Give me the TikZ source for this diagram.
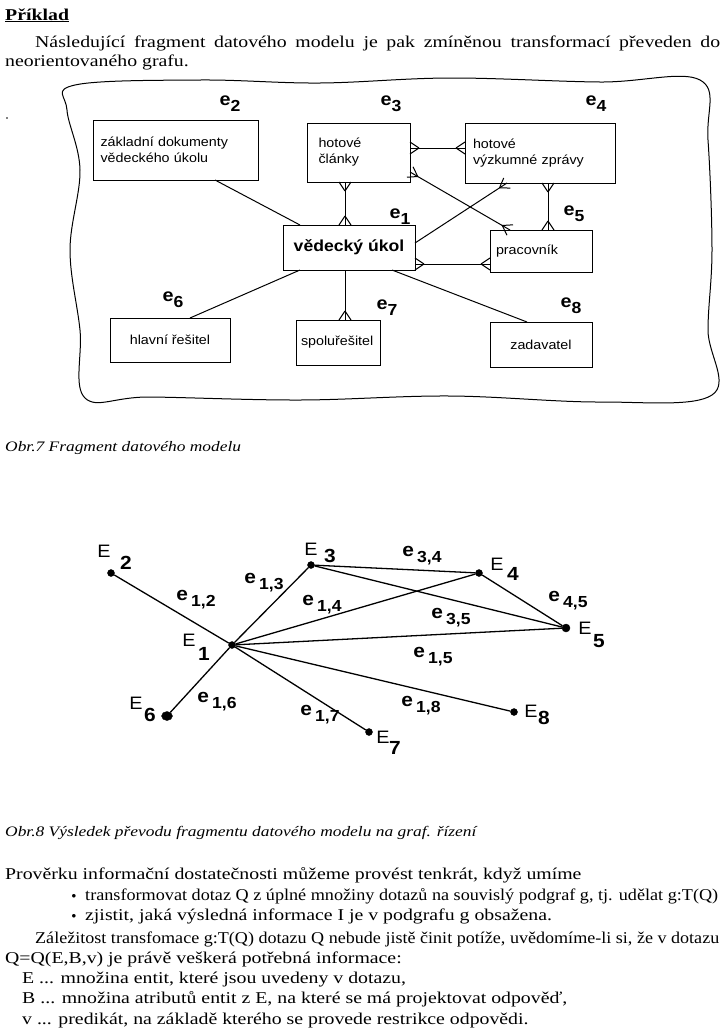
\documentclass[tikz,border=0pt]{standalone}
\usepackage{fontspec}
\setmainfont{Liberation Serif}[FakeStretch=1.2]
\newfontfamily\ars{Liberation Sans}[FakeStretch=1.1]
\usetikzlibrary{calc,shapes.geometric}
\newcommand\crowft[2]{\draw ($(#1)!9pt!(#2)$) -- ($(#1)!6pt!90:(#2)$) ($(#1)!9pt!(#2)$) -- ($(#1)!6pt!-90:(#2)$);}
\tikzset{
 box/.style={draw,line width=0.9pt,font=\ars\fontsize{13}{16}\selectfont,align=left,inner sep=0pt},
 el/.style={font=\ars\bfseries\fontsize{18}{18}\selectfont,inner sep=0pt},
 ln/.style={line width=1pt},
 vx/.style={circle,fill=black,draw=black,inner sep=0pt,minimum size=7pt},
 gl/.style={font=\ars\bfseries\fontsize{19}{19}\selectfont,inner sep=0pt},
 txt/.style={anchor=base west,inner sep=0pt,font=\fontsize{16.5}{20}\selectfont},
 captxt/.style={anchor=base west,inner sep=0pt,font=\itshape\fontsize{14.5}{17}\selectfont},
}
\newcommand\sub[1]{\raisebox{-6pt}{\fontsize{16}{16}\selectfont #1}}
\newcommand\bul{\llap{\raisebox{2pt}{\small$\bullet$}\hspace{9pt}}}
\begin{document}
\begin{tikzpicture}[x=1pt,y=-1pt]
\useasboundingbox (0,0) rectangle (727,1029);
% header text
\node[txt] (t1) at (5,20) {\textbf{\underline{Příklad}}};
\node[txt] (t2) at (35,47) {\makebox[685pt][s]{Následující fragment datového modelu je pak zmíněnou transformací převeden do}};
\node[txt] (t3) at (5,66) {neorientovaného grafu.};
\fill (7,118) circle (0.8);
% blob
\draw[line width=1pt] plot[smooth cycle,tension=0.6] coordinates {
 (75,85) (200,80) (320,83) (450,78) (600,82) (700,80) (708,140) (712,250) (708,330) (712,395)
 (600,402) (450,396) (300,400) (150,397) (85,398) (80,330) (70,250) (80,170) (67,110)};
% boxes
\node[box,minimum width=165pt,minimum height=60pt,text width=150pt] (b2) at (175.5,150) {základní dokumenty\\vědeckého úkolu};
\node[box,minimum width=103pt,minimum height=59pt,text width=80pt] (b3) at (358.5,152.5) {hotové\\články};
\node[box,minimum width=150pt,minimum height=60pt,text width=134pt] (b4) at (540,153) {hotové\\výzkumné zprávy};
\node[box,minimum width=132pt,minimum height=45pt,align=center,font=\ars\bfseries\fontsize{16}{16}\selectfont] (b1) at (349,247.5) {vědecký úkol};
\node[box,minimum width=102pt,minimum height=42pt,text width=90pt] (b5) at (541,251) {pracovník};
\node[box,minimum width=120pt,minimum height=44pt,align=center] (b6) at (170,340) {hlavní řešitel};
\node[box,minimum width=84pt,minimum height=45pt,text width=74pt] (b7) at (338,342.5) {spoluřešitel};
\node[box,minimum width=102pt,minimum height=45pt,align=center] (b8) at (541,344.5) {zadavatel};
% labels
\node[el] (l2) at (230,104) {e\sub{2}};
\node[el] (l3) at (391,104) {e\sub{3}};
\node[el] (l4) at (596,104) {e\sub{4}};
\node[el] (l1) at (400,217) {e\sub{1}};
\node[el] (l5) at (574,214) {e\sub{5}};
\node[el] (l6) at (173,300) {e\sub{6}};
\node[el] (l7) at (387,308) {e\sub{7}};
\node[el] (l8) at (571,306) {e\sub{8}};
% endpoints
\coordinate (p2a) at (215,180); \coordinate (p1a) at (300,225);
\coordinate (p3b) at (345,182); \coordinate (p1b) at (345,225);
\coordinate (p3r) at (410,148); \coordinate (p4l) at (465,148);
\coordinate (p3c) at (410,172); \coordinate (p5a) at (510,230);
\coordinate (p4b) at (507,183); \coordinate (p1r) at (415,243);
\coordinate (p4c) at (548,183); \coordinate (p5b) at (548,230);
\coordinate (p1d) at (415,264); \coordinate (p5l) at (490,264);
\coordinate (p1e) at (300,270); \coordinate (p6a) at (190,318);
\coordinate (p1f) at (345,270); \coordinate (p7a) at (345,320);
\coordinate (p1g) at (392,270); \coordinate (p8a) at (527,322);
\begin{scope}[ln]
\draw (p2a) -- (p1a);
\draw (p3b) -- (p1b); \crowft{p3b}{p1b} \crowft{p1b}{p3b}
\draw (p3r) -- (p4l); \crowft{p3r}{p4l} \crowft{p4l}{p3r}
\draw (p3c) -- (p5a); \crowft{p3c}{p5a} \crowft{p5a}{p3c}
\draw (p4b) -- (p1r); \crowft{p4b}{p1r}
\draw (p4c) -- (p5b); \crowft{p4c}{p5b} \crowft{p5b}{p4c}
\draw (p1d) -- (p5l); \crowft{p1d}{p5l} \crowft{p5l}{p1d}
\draw (p1e) -- (p6a);
\draw (p1f) -- (p7a); \crowft{p7a}{p1f}
\draw (p1g) -- (p8a);
\end{scope}
\node[captxt] (c7) at (5,451) {Obr.7 Fragment datového modelu};
% graph
\node[vx] (E1) at (232,645) {};
\node[vx] (E2) at (111,573) {};
\node[vx] (E3) at (311,565) {};
\node[vx] (E4) at (479,573) {};
\node[vx,minimum size=8pt] (E5) at (566,628) {};
\node[vx,ellipse,minimum width=11pt,minimum height=9pt] (E6) at (167,716) {};
\node[vx] (E7) at (369,732) {};
\node[vx] (E8) at (514,712) {};
\begin{scope}[line width=1.3pt]
\draw (E1)--(E2); \draw (E1)--(E3); \draw (E1)--(E4); \draw (E1)--(E5);
\draw (E1)--(E6); \draw (E1)--(E7); \draw (E1)--(E8);
\draw (E3)--(E4); \draw (E3)--(E5); \draw (E4)--(E5);
\end{scope}
\tikzset{gn/.style={font=\ars\fontsize{18}{18}\selectfont,inner sep=0pt}}
\node[gn] (n2) at (104,551) {E}; \node[gl] (m2) at (126,563) {2};
\node[gn] (n3) at (311,549) {E}; \node[gl] (m3) at (330,556) {3};
\node[gn] (n4) at (497,564) {E}; \node[gl] (m4) at (513,574) {4};
\node[gn] (n5) at (585,628) {E}; \node[gl] (m5) at (599,641) {5};
\node[gn] (n1) at (189,640) {E}; \node[gl] (m1) at (204,654) {1};
\node[gn] (n6) at (136,703) {E}; \node[gl] (m6) at (150,715) {6};
\node[gn] (n7) at (383,737) {E}; \node[gl] (m7) at (395,748) {7};
\node[gn] (n8) at (531,711) {E}; \node[gl] (m8) at (544,718) {8};
\node[gl] (e12) at (196,600) {e\,\sub{1,2}};
\node[gl] (e13) at (264,583) {e\,\sub{1,3}};
\node[gl] (e14) at (322,605) {e\,\sub{1,4}};
\node[gl] (e34) at (422,556) {e\,\sub{3,4}};
\node[gl] (e35) at (451,618) {e\,\sub{3,5}};
\node[gl] (e45) at (568,601) {e\,\sub{4,5}};
\node[gl] (e15) at (433,657) {e\,\sub{1,5}};
\node[gl] (e16) at (217,702) {e\,\sub{1,6}};
\node[gl] (e17) at (320,715) {e\,\sub{1,7}};
\node[gl] (e18) at (421,706) {e\,\sub{1,8}};
\node[captxt] (c8) at (5,836) {Obr.8 Výsledek převodu fragmentu datového modelu na graf. řízení};
% paragraph
\node[txt] (q1) at (5,879) {Prověrku informační dostatečnosti můžeme provést tenkrát, když umíme};
\node[txt] (q2) at (85,900) {\bul\resizebox{633pt}{\height}{transformovat dotaz Q z úplné množiny dotazů na souvislý podgraf g, tj. udělat g:T(Q)}};
\node[txt] (q3) at (85,920) {\bul zjistit, jaká výsledná informace I je v podgrafu g obsažena.};
\node[txt] (q4) at (35,943) {\resizebox{684pt}{\height}{Záležitost transfomace g:T(Q) dotazu Q nebude jistě činit potíže, uvědomíme-li si, že v dotazu}};
\node[txt] (q5) at (5,963) {Q=Q(E,B,v) je právě veškerá potřebná informace:};
\node[txt] (q6) at (22,983) {E ... množina entit, které jsou uvedeny v dotazu,};
\node[txt] (q7) at (22,1003) {B ... množina atributů entit z E, na které se má projektovat odpověď,};
\node[txt] (q8) at (22,1024) {v ... predikát, na základě kterého se provede restrikce odpovědi.};
\end{tikzpicture}
\end{document}
